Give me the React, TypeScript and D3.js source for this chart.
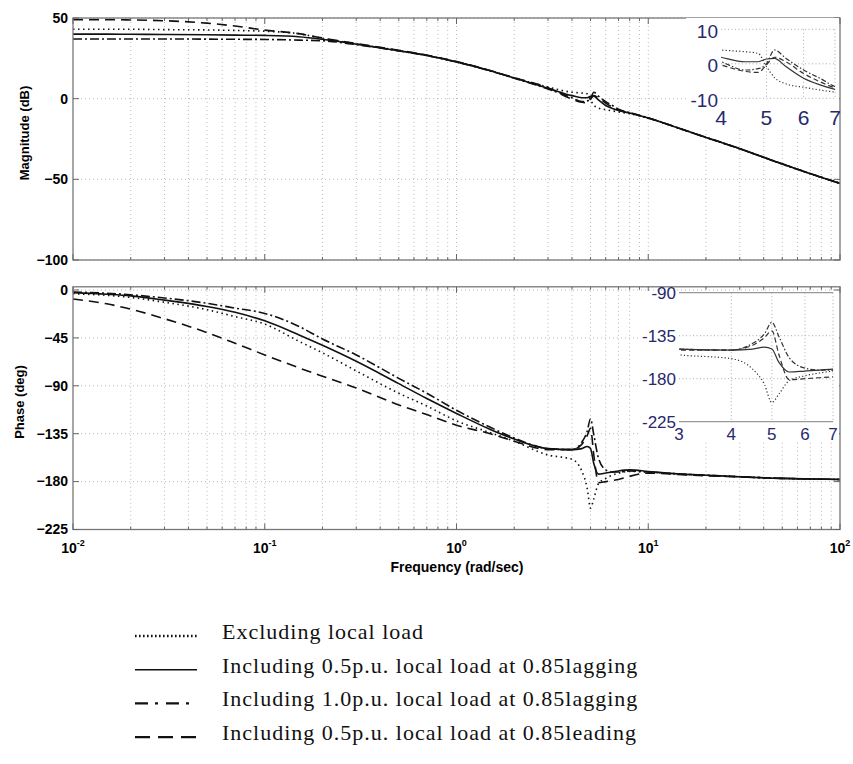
import React, { useEffect, useRef } from 'react';
import * as d3 from 'd3';

const freq = [0.01, 0.015, 0.02, 0.03, 0.05, 0.07, 0.1, 0.15, 0.2, 0.3, 0.5, 0.7, 1, 1.5, 2, 3, 4, 4.5, 4.8, 5, 5.2, 5.5, 6, 6.5, 7, 8, 10, 15, 20, 30, 50, 70, 100];

// magnitude (dB)
const magExcluding = [43, 43, 43, 42.8, 42.6, 42.3, 41.8, 40.3, 37.4, 34, 29.8, 26.8, 22.8, 17.3, 12.9, 7.2, 4, 3.5, 3, -0.8, -4, -5.8, -6.8, -7.6, -8.2, -9.3, -12.2, -19.1, -24.1, -31.1, -40.6, -46.6, -52.6];
const magLag05 = [40, 40, 39.9, 39.8, 39.6, 39.4, 39.2, 38.4, 36.8, 33.8, 29.7, 26.8, 22.8, 17.3, 12.8, 6.5, 1.9, 0.6, 0.6, 1.4, 1.6, -0.8, -4.2, -6.1, -7.4, -8.9, -12, -19, -24, -31, -40.5, -46.5, -52.5];
const magLag10 = [37, 37, 37, 37, 36.9, 36.8, 36.7, 36.3, 35.9, 33.5, 29.6, 26.7, 22.7, 17.2, 12.7, 6, 0.6, -1.8, -1.4, 0, 4, 1.6, -1.8, -4.2, -6.6, -8.6, -11.9, -18.9, -23.9, -30.9, -40.4, -46.4, -52.4];
const magLead05 = [49, 49, 48.8, 48.3, 46.8, 45, 42.5, 40.3, 37.6, 34.2, 30, 27, 23, 17.5, 13, 6.8, -0.3, -2.2, -2.5, -0.3, 1.9, 0.6, -2.8, -5.2, -7, -8.8, -12, -19, -24, -31, -40.5, -46.5, -52.5];

// phase (deg)
const phExcluding = [-3.5, -5, -7, -11.5, -18.5, -25, -32, -48, -59, -76, -97, -109, -123, -134, -142, -155, -159, -170, -186, -205, -196, -182, -177, -174, -172, -170.5, -171, -173, -174, -175.5, -177, -177.5, -178];
const phLag05 = [-2.5, -4, -5.5, -9.5, -15.5, -21, -29, -42, -52, -67, -88, -102, -116, -131, -140, -149, -150, -149, -147, -149, -163, -173, -172, -171, -170, -169, -170.5, -173, -174, -175.5, -177, -177.5, -178];
const phLag10 = [-2, -3, -4.5, -7.5, -12.5, -17, -22, -34, -46, -61, -83, -97, -113, -129, -139, -149, -150, -143, -133, -121, -136, -158, -169, -171, -171, -170, -171, -173, -174, -175.5, -177, -177.5, -178];
const phLead05 = [-8.5, -13, -18, -27, -40, -50, -61, -73, -81, -92, -108, -117, -127, -135, -142, -150, -150, -145, -137, -130, -155, -181, -180, -179, -178, -175, -172, -173.5, -174.5, -175.5, -177, -177.5, -178];

const legendLabels = [
	'Excluding local load',
	'Including 0.5p.u. local load at 0.85lagging',
	'Including 1.0p.u. local load at 0.85lagging',
	'Including 0.5p.u. local load at 0.85leading',
];

const magTicks = [50, 0, -50, -100];
const phaseTicks = [0, -45, -90, -135, -180, -225];
const decades = [0.01, 0.1, 1, 10, 100];
const decadeExp = ['-2', '-1', '0', '1', '2'];
const magInsetXTicks = [4, 5, 6, 7];
const magInsetYTicks = [10, 0, -10];
const phInsetXTicks = [3, 4, 5, 6, 7];
const phInsetYTicks = [-90, -135, -180, -225];

const W = 853;
const H = 764;
const SANS = 'Liberation Sans, Arial, Helvetica, sans-serif';
const NAVY = '#28286e';

// dash styles per series: main plot, inset, legend
const dashMain = ['1.5,3.5', null, '9,3,2,3', '10,6'];
const dashInset = ['1.2,2.2', null, '5,2,1.5,2', '5,3'];
const dashLegend = ['1.6,2.4', null, '13,7,3,8', '15,8'];

export default function App() {
	const svgRef = useRef<SVGSVGElement>(null);

	useEffect(() => {
		const svg = d3.select(svgRef.current);
		svg.selectAll('*').remove();
		svg.append('rect').attr('width', W).attr('height', H).attr('fill', '#fff');

		const x = d3.scaleLog().domain([0.01, 100]).range([73, 840]);
		const yMag = d3.scaleLinear().domain([-100, 50]).range([260, 18]);
		const yPh = d3.scaleLinear().domain([-225, 3]).range([529.5, 286.8]);

		const minor = d3.range(-2, 2).flatMap((e) => d3.range(1, 10).map((m) => +(m * 10 ** e).toPrecision(3)));
		minor.push(100);

		const magSeries = [magExcluding, magLag05, magLag10, magLead05];
		const phSeries = [phExcluding, phLag05, phLag10, phLead05];

		const drawPanel = (y, ticks, series, id) => {
			const [bottom, top] = y.range();
			const [left, right] = x.range();
			const g = svg.append('g');

			// grid
			g.selectAll('line.vg')
				.data(minor.filter((v) => v > 0.01 && v < 100))
				.join('line')
				.attr('x1', (d) => x(d))
				.attr('x2', (d) => x(d))
				.attr('y1', top)
				.attr('y2', bottom)
				.attr('stroke', '#aaa')
				.attr('stroke-width', 0.8)
				.attr('stroke-dasharray', '1,3');
			g.selectAll('line.hg')
				.data(ticks)
				.join('line')
				.attr('x1', left)
				.attr('x2', right)
				.attr('y1', (d) => y(d))
				.attr('y2', (d) => y(d))
				.attr('stroke', '#aaa')
				.attr('stroke-width', 0.8)
				.attr('stroke-dasharray', '1,3');

			// curves
			svg.append('clipPath')
				.attr('id', id)
				.append('rect')
				.attr('x', left)
				.attr('y', top)
				.attr('width', right - left)
				.attr('height', bottom - top);
			const line = d3
				.line()
				.x((d) => x(d[0]))
				.y((d) => y(d[1]))
				.curve(d3.curveMonotoneX);
			series.forEach((vals, i) => {
				g.append('path')
					.datum(freq.map((f, k) => [f, vals[k]]))
					.attr('clip-path', `url(#${id})`)
					.attr('fill', 'none')
					.attr('stroke', '#111')
					.attr('stroke-width', 1.6)
					.attr('stroke-dasharray', dashMain[i])
					.attr('d', line);
			});

			// frame and inner ticks
			g.append('rect')
				.attr('x', left)
				.attr('y', top)
				.attr('width', right - left)
				.attr('height', bottom - top)
				.attr('fill', 'none')
				.attr('stroke', '#777')
				.attr('stroke-width', 1.3);
			minor.forEach((v) => {
				const len = decades.includes(v) ? 6 : 3;
				[[bottom, -len], [top, len]].forEach(([yy, dl]) => {
					g.append('line')
						.attr('x1', x(v))
						.attr('x2', x(v))
						.attr('y1', yy)
						.attr('y2', yy + dl)
						.attr('stroke', '#666');
				});
			});
			ticks.forEach((t) => {
				[[left, 6], [right, -6]].forEach(([xx, dl]) => {
					g.append('line')
						.attr('x1', xx)
						.attr('x2', xx + dl)
						.attr('y1', y(t))
						.attr('y2', y(t))
						.attr('stroke', '#666');
				});
				g.append('text')
					.attr('x', 68)
					.attr('y', y(t))
					.attr('dy', '0.35em')
					.attr('text-anchor', 'end')
					.attr('font-family', SANS)
					.attr('font-weight', 'bold')
					.attr('font-size', 14)
					.text(String(t).replace('-', '\u2212'));
			});
			return g;
		};

		drawPanel(yMag, magTicks, magSeries, 'clipMag');
		drawPanel(yPh, phaseTicks, phSeries, 'clipPh');

		// axis titles
		svg.append('text')
			.attr('transform', 'translate(29,133) rotate(-90)')
			.attr('text-anchor', 'middle')
			.attr('font-family', SANS)
			.attr('font-weight', 'bold')
			.attr('font-size', 13)
			.text('Magnitude (dB)');
		svg.append('text')
			.attr('transform', 'translate(24,402) rotate(-90)')
			.attr('text-anchor', 'middle')
			.attr('font-family', SANS)
			.attr('font-weight', 'bold')
			.attr('font-size', 13)
			.text('Phase (deg)');
		svg.append('text')
			.attr('x', 457)
			.attr('y', 572)
			.attr('text-anchor', 'middle')
			.attr('font-family', SANS)
			.attr('font-weight', 'bold')
			.attr('font-size', 14)
			.text('Frequency (rad/sec)');

		decades.forEach((d, i) => {
			const t = svg.append('text')
				.attr('x', x(d))
				.attr('y', 553)
				.attr('text-anchor', 'middle')
				.attr('font-family', SANS)
				.attr('font-weight', 'bold')
				.attr('font-size', 14);
			t.append('tspan').text('10');
			t.append('tspan').attr('dy', -7).attr('font-size', 9).text(decadeExp[i]);
		});

		// insets
		const drawInset = (bg, xs, ys, xTicks, yTicks, series, id, opts) => {
			const g = svg.append('g');
			g.append('rect')
				.attr('x', bg[0])
				.attr('y', bg[1])
				.attr('width', bg[2])
				.attr('height', bg[3])
				.attr('fill', '#fff');
			const [l, r] = xs.range();
			const [b, t] = ys.range();
			xTicks.slice(1).forEach((v) => {
				g.append('line')
					.attr('x1', xs(v))
					.attr('x2', xs(v))
					.attr('y1', t)
					.attr('y2', b)
					.attr('stroke', '#aaa')
					.attr('stroke-dasharray', '1,2.5');
			});
			yTicks.forEach((v, i) => {
				const edge = i === 0 || i === yTicks.length - 1;
				g.append('line')
					.attr('x1', l)
					.attr('x2', r)
					.attr('y1', ys(v))
					.attr('y2', ys(v))
					.attr('stroke', edge && opts.solidEdges ? '#999' : '#aaa')
					.attr('stroke-width', edge && opts.solidEdges ? 1.2 : 1)
					.attr('stroke-dasharray', edge && opts.solidEdges ? null : '1,2.5');
			});
			svg.append('clipPath')
				.attr('id', id)
				.append('rect')
				.attr('x', l)
				.attr('y', t - 2)
				.attr('width', r - l)
				.attr('height', b - t + 4);
			const line = d3
				.line()
				.x((d) => xs(d[0]))
				.y((d) => ys(d[1]))
				.curve(d3.curveMonotoneX);
			series.forEach((vals, i) => {
				g.append('path')
					.datum(freq.map((f, k) => [f, vals[k]]))
					.attr('clip-path', `url(#${id})`)
					.attr('fill', 'none')
					.attr('stroke', '#333')
					.attr('stroke-width', 1.2)
					.attr('stroke-dasharray', dashInset[i])
					.attr('d', line);
			});
			yTicks.forEach((v) => {
				g.append('text')
					.attr('x', l - 3)
					.attr('y', ys(v) + opts.yShift)
					.attr('dy', '0.35em')
					.attr('text-anchor', 'end')
					.attr('font-family', SANS)
					.attr('font-size', opts.fs)
					.attr('fill', NAVY)
					.text(String(v));
			});
			xTicks.forEach((v) => {
				g.append('text')
					.attr('x', xs(v))
					.attr('y', b + opts.xLabelDy)
					.attr('text-anchor', 'middle')
					.attr('font-family', SANS)
					.attr('font-size', opts.fsX)
					.attr('fill', NAVY)
					.text(String(v));
			});
		};

		drawInset(
			[686, 18, 153, 109],
			d3.scaleLog().domain([4, 7]).range([721, 835]),
			d3.scaleLinear().domain([-10, 10]).range([98.3, 29.3]),
			magInsetXTicks,
			magInsetYTicks,
			magSeries,
			'clipMagIn',
			{ fs: 19, fsX: 21, yShift: 2, xLabelDy: 27, solidEdges: false }
		);
		drawInset(
			[638, 291, 201, 149],
			d3.scaleLog().domain([3, 7]).range([679, 833]),
			d3.scaleLinear().domain([-225, -90]).range([421.7, 292.7]),
			phInsetXTicks,
			phInsetYTicks,
			phSeries,
			'clipPhIn',
			{ fs: 17, fsX: 17, yShift: 0, xLabelDy: 18, solidEdges: true }
		);

		// legend
		legendLabels.forEach((label, i) => {
			const yy = 636 + i * 33.7;
			svg.append('line')
				.attr('x1', 135)
				.attr('x2', 197)
				.attr('y1', yy)
				.attr('y2', yy)
				.attr('stroke', '#111')
				.attr('stroke-width', i === 1 ? 1.6 : 2.4)
				.attr('stroke-dasharray', dashLegend[i]);
			svg.append('text')
				.attr('x', 222)
				.attr('y', yy + 3)
				.attr('font-family', 'Liberation Serif, Times New Roman, serif')
				.attr('font-size', 22)
				.attr('letter-spacing', 1)
				.attr('fill', '#111')
				.text(label);
		});
	}, []);

	return (
		<div style={{ position: 'absolute', left: 0, top: 0 }}>
			<svg ref={svgRef} width={W} height={H} style={{ display: 'block' }} />
		</div>
	);
}
